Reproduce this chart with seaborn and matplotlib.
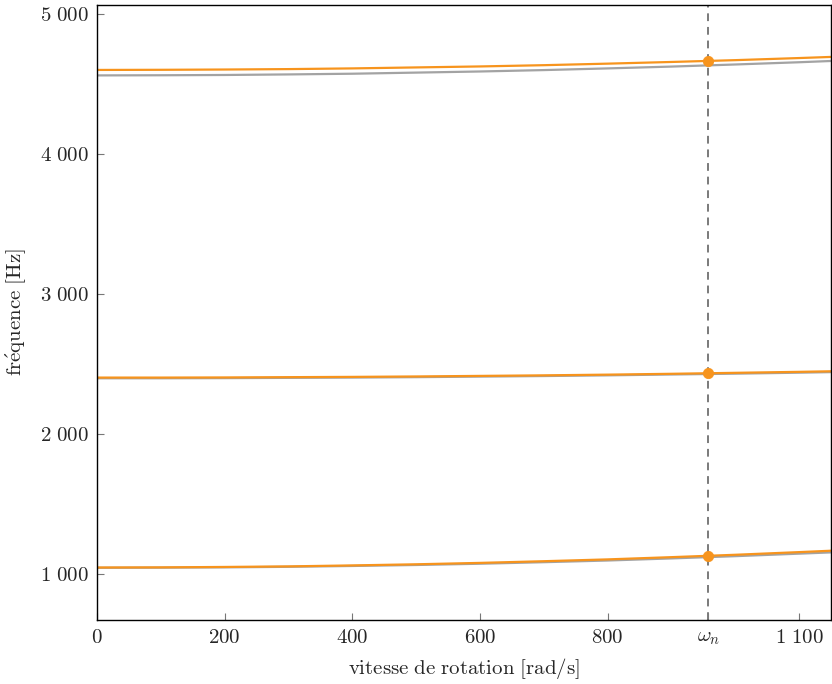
import numpy as np
import pandas as pd
import matplotlib
matplotlib.use("Agg")
import matplotlib.pyplot as plt
import seaborn as sns

# vitesse de rotation [rad/s]
vitesse = [0, 100, 200, 300, 400, 500, 600, 700, 800, 900, 1000, 1100, 1150]
omega_n = 958

# frequences [Hz] : mode 1, 2, 3 (orange = direct, gris = retrograde)
mode1_orange = [1045, 1046, 1049, 1053, 1060, 1068, 1078, 1090, 1103, 1119, 1136, 1155, 1165]
mode1_gris = [1043, 1044, 1046, 1050, 1056, 1063, 1072, 1083, 1095, 1110, 1126, 1144, 1153]
mode2_orange = [2402, 2402, 2403, 2405, 2407, 2410, 2414, 2418, 2423, 2429, 2436, 2443, 2447]
mode2_gris = [2397, 2397, 2398, 2400, 2402, 2405, 2409, 2413, 2418, 2424, 2430, 2437, 2441]
mode3_orange = [4600, 4601, 4603, 4606, 4611, 4618, 4625, 4634, 4645, 4657, 4670, 4685, 4693]
mode3_gris = [4561, 4562, 4564, 4568, 4573, 4581, 4589, 4599, 4611, 4624, 4639, 4655, 4664]

# points a omega_n
pts_freq = [1129, 2436, 4664]

xticks = [0, 200, 400, 600, 800, omega_n, 1100]
xlabels = [r'$0$', r'$200$', r'$400$', r'$600$', r'$800$', r'$\omega_n$', r'$1\ 100$']
yticks = [1000, 2000, 3000, 4000, 5000]
ylabels = [r'$1\ 000$', r'$2\ 000$', r'$3\ 000$', r'$4\ 000$', r'$5\ 000$']

sns.set_theme(style="white")
plt.rcParams['mathtext.fontset'] = 'cm'
plt.rcParams['font.family'] = ['DejaVu Serif']

orange = '#F7941D'
gris = '#A3A3A3'

fig = plt.figure(figsize=(8.32, 6.84), dpi=100)
ax = fig.add_axes([97 / 832, 64 / 684, 734 / 832, 615 / 684])

for g, o in [(mode1_gris, mode1_orange), (mode2_gris, mode2_orange), (mode3_gris, mode3_orange)]:
    sns.lineplot(x=vitesse, y=g, ax=ax, color=gris, linewidth=1.6)
    sns.lineplot(x=vitesse, y=o, ax=ax, color=orange, linewidth=1.6)

ax.axvline(omega_n, color='#7a7a7a', linestyle=(0, (4, 3)), linewidth=1.4)
sns.scatterplot(x=[omega_n] * len(pts_freq), y=pts_freq, ax=ax, color=orange, s=55,
                edgecolor=orange, zorder=5)

ax.set_xlim(0, 1150)
ax.set_ylim(670, 5064)
ax.set_xticks(xticks)
ax.set_xticklabels(xlabels, fontsize=15)
ax.set_yticks(yticks)
ax.set_yticklabels(ylabels, fontsize=15)
ax.tick_params(direction='in', length=5, width=0.8, color='#777777', pad=6,
               bottom=True, left=True, top=False, right=False)
for s in ax.spines.values():
    s.set_color('black')
    s.set_linewidth(1.0)

ax.set_xlabel(r'$\mathrm{vitesse\ de\ rotation\ [rad/s]}$', fontsize=15, labelpad=6)
ax.set_ylabel(r'$\mathrm{fr\acute{e}quence\ [Hz]}$', fontsize=15, labelpad=8)

fig.savefig('out.png', dpi=100)
